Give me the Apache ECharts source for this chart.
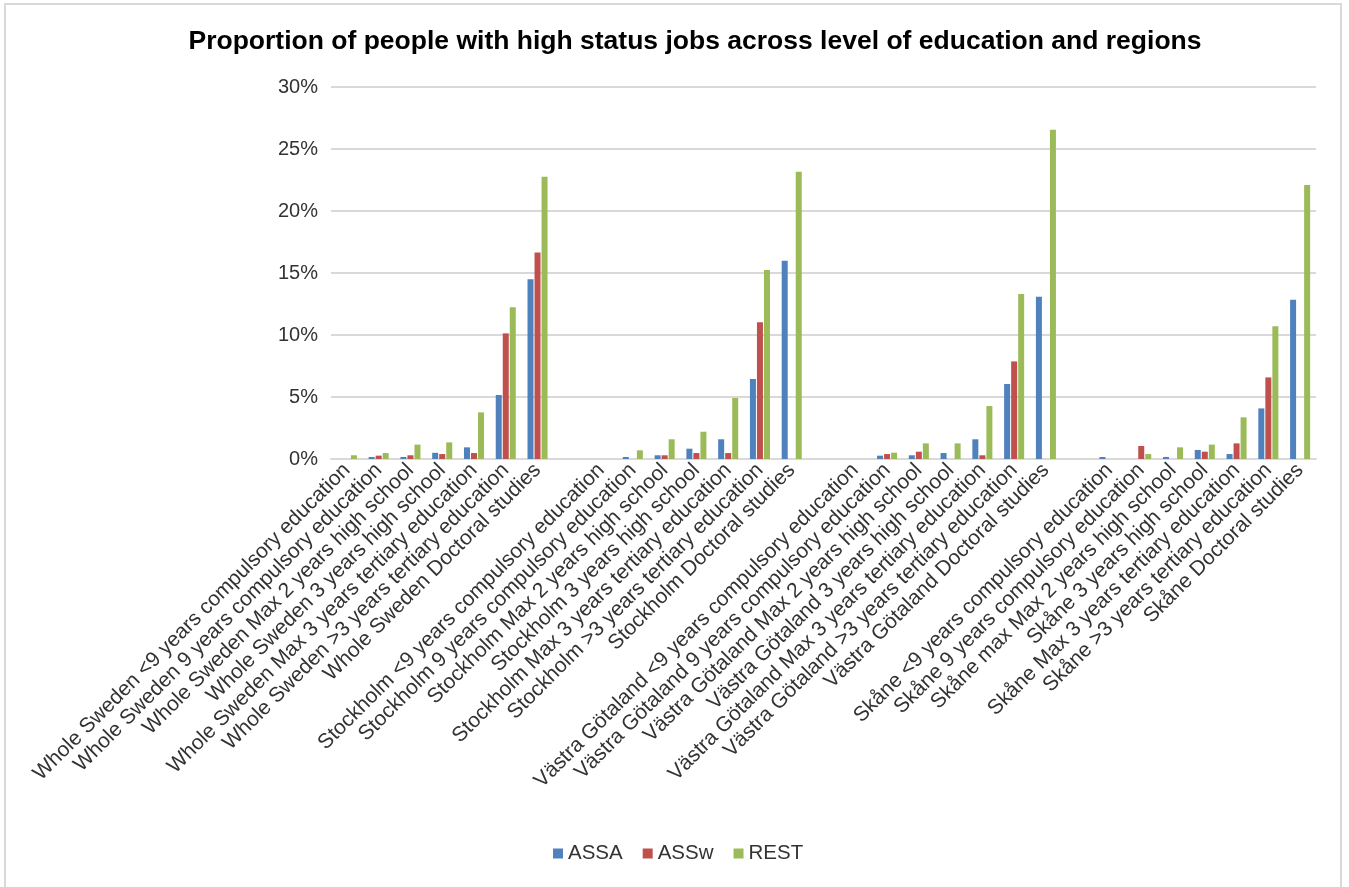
<!DOCTYPE html>
<html>
<head>
<meta charset="utf-8">
<title>Proportion of people with high status jobs</title>
<script src="https://cdn.jsdelivr.net/npm/echarts@6/dist/echarts.min.js"></script>
<style>
  html, body { margin: 0; padding: 0; background: #fff; overflow: hidden; }
  #chart { position: absolute; left: 0; top: 0; width: 1349px; height: 887px; }
  #frame { position: absolute; left: 4px; top: 3px; width: 1338px; height: 900px;
           border: 2px solid #d9d9d9; pointer-events: none; box-sizing: border-box; }
</style>
</head>
<body>
<div id="chart"></div>
<div id="frame"></div>
<script>
// Category labels; the blank entries are spacer slots between regions
const categories = [
  'Whole Sweden <9 years compulsory education',
  'Whole Sweden 9 years compulsory education',
  'Whole Sweden Max 2 years high school',
  'Whole Sweden 3 years high school',
  'Whole Sweden Max 3 years tertiary education',
  'Whole Sweden >3 years tertiary education',
  'Whole Sweden Doctoral studies',
  ' ',
  'Stockholm <9 years compulsory education',
  'Stockholm 9 years compulsory education',
  'Stockholm Max 2 years high school',
  'Stockholm 3 years high school',
  'Stockholm Max 3 years tertiary education',
  'Stockholm >3 years tertiary education',
  'Stockholm Doctoral studies',
  '  ',
  'Västra Götaland <9 years compulsory education',
  'Västra Götaland 9 years compulsory education',
  'Västra Götaland Max 2 years high school',
  'Västra Götaland 3 years high school',
  'Västra Götaland Max 3 years tertiary education',
  'Västra Götaland >3 years tertiary education',
  'Västra Götaland Doctoral studies',
  '   ',
  'Skåne <9 years compulsory education',
  'Skåne 9 years compulsory education',
  'Skåne max Max 2 years high school',
  'Skåne 3 years high school',
  'Skåne Max 3 years tertiary education',
  'Skåne >3 years tertiary education',
  'Skåne Doctoral studies'
];

// Shares in percent
const assa = [
  0, 0.16, 0.16, 0.5, 0.94, 5.16, 14.5,
  null,
  0, 0.16, 0.3, 0.83, 1.59, 6.45, 15.99,
  null,
  0, 0.27, 0.3, 0.48, 1.59, 6.05, 13.09,
  null,
  0.16, 0, 0.16, 0.73, 0.4, 4.08, 12.85
];
const assw = [
  0, 0.27, 0.3, 0.4, 0.48, 10.13, 16.66,
  null,
  0, 0, 0.3, 0.48, 0.48, 11.02, 0,
  null,
  0, 0.4, 0.59, 0, 0.3, 7.87, 0,
  null,
  0, 1.05, 0, 0.59, 1.26, 6.58, 0
];
const rest = [
  0.3, 0.48, 1.16, 1.34, 3.76, 12.23, 22.77,
  null,
  0, 0.7, 1.59, 2.2, 4.92, 15.24, 23.17,
  null,
  0, 0.51, 1.26, 1.26, 4.27, 13.3, 26.56,
  null,
  0, 0.4, 0.94, 1.16, 3.36, 10.7, 22.1
];

const seriesNames = ['ASSA', 'ASSw', 'REST'];
const seriesColors = ['#4F81BD', '#C0504D', '#9BBB59'];
const seriesData = [assa, assw, rest];

const font = '"Liberation Sans", Arial, sans-serif';
const chart = echarts.init(document.getElementById('chart'), null, { renderer: 'canvas' });

chart.setOption({
  animation: false,
  textStyle: { fontFamily: font },
  title: {
    text: 'Proportion of people with high status jobs across level of education and regions',
    left: 690,
    top: 23,
    textAlign: 'center',
    textStyle: { fontFamily: font, fontSize: 26.5, fontWeight: 'bold', color: '#000' }
  },
  legend: {
    bottom: 18,
    left: 548,
    icon: 'rect',
    itemWidth: 10,
    itemHeight: 10,
    itemGap: 20,
    textStyle: { fontFamily: font, fontSize: 20.5, color: '#333' },
    data: seriesNames
  },
  grid: { left: 331, right: 33, top: 87, bottom: 428 },
  xAxis: {
    type: 'category',
    data: categories,
    axisLine: { lineStyle: { color: '#d9d9d9', width: 2 } },
    axisTick: { show: false },
    axisLabel: {
      interval: 0,
      rotate: 45,
      margin: 8,
      fontFamily: font,
      fontSize: 21,
      color: '#333'
    }
  },
  yAxis: {
    type: 'value',
    min: 0,
    max: 30,
    interval: 5,
    axisLine: { show: false },
    axisTick: { show: false },
    axisLabel: { formatter: '{value}%', fontFamily: font, fontSize: 20, color: '#333', margin: 13 },
    splitLine: { lineStyle: { color: '#d9d9d9', width: 2 } }
  },
  series: seriesNames.map((name, i) => ({
    name: name,
    type: 'bar',
    data: seriesData[i],
    barWidth: 6,
    barGap: '17%',
    itemStyle: { color: seriesColors[i] }
  }))
});
</script>
</body>
</html>
